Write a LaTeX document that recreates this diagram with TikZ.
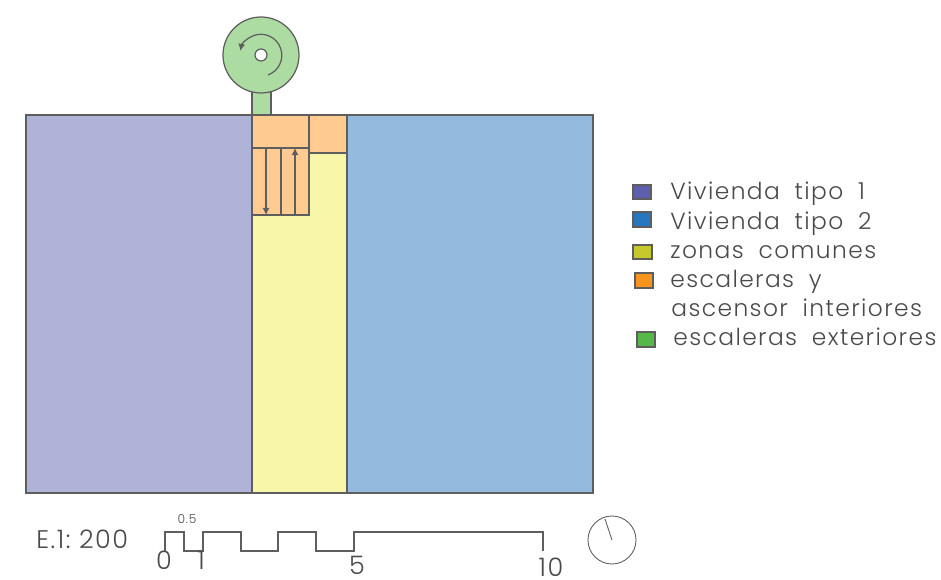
\documentclass[tikz,border=0pt]{standalone}
\usepackage{amsmath}
\usepackage{fontspec}
\usepackage{tikz}
\usetikzlibrary{arrows.meta}
\newfontfamily\cadfont[UprightFont=* Light,LetterSpace=6,WordSpace=1.9]{Poppins}
\definecolor{linegray}{HTML}{5E5E5E}
\definecolor{textgray}{HTML}{4A4A4A}
\definecolor{viviendaA}{HTML}{B0B3D8}
\definecolor{viviendaB}{HTML}{94BBDD}
\definecolor{comunes}{HTML}{F8F6A8}
\definecolor{interior}{HTML}{FFCB90}
\definecolor{exterior}{HTML}{ADDCA3}
\tikzset{
  wall/.style={draw=linegray, line width=0.7pt},
  keybox/.style={draw=linegray, line width=0.7pt},
  keytext/.style={anchor=base west, inner sep=0pt, text=textgray, font=\cadfont\fontsize{13.3}{13.3}\selectfont},
  scaletext/.style={anchor=base, inner sep=0pt, text=textgray, font=\cadfont\fontsize{14.5}{14.5}\selectfont},
  stairtip/.style={-{Latex[length=4pt,width=4pt]}}
}
\begin{document}
\begin{tikzpicture}[x=0.02cm, y=-0.02cm]
\useasboundingbox (0,0) rectangle (941,580);
% spiral stair outside
\draw[wall, fill=exterior] (252,115) -- (252,90) -- (271,90) -- (271,115);
\draw[wall, fill=exterior] (261,55) circle [radius=38];
\draw[wall, fill=white] (261,55) circle [radius=6];
\draw[wall, stairtip] (268,75) arc [start angle=70, end angle=-168, radius=21];
% flats and common zone
\draw[wall, fill=viviendaA] (26,115) rectangle (252,493);
\draw[wall, fill=viviendaB] (347,115) rectangle (593,493);
\draw[wall, fill=comunes] (252,115) rectangle (347,493);
% stairs and lift
\draw[wall, fill=interior] (252,115) rectangle (309,215);
\draw[wall, fill=interior] (309,115) rectangle (347,153);
\draw[wall] (252,148) -- (309,148);
\draw[wall] (281,148) -- (281,215);
\draw[wall, stairtip] (266,148) -- (266,215);
\draw[wall, stairtip] (295,215) -- (295,148);
% legend
\draw[keybox, fill={rgb,255:red,95;green,95;blue,174}] (633,185) rectangle (651,199);
\draw[keybox, fill={rgb,255:red,37;green,119;blue,190}] (633,212) rectangle (651,227);
\draw[keybox, fill={rgb,255:red,198;green,200;blue,44}] (633,245) rectangle (652,259);
\draw[keybox, fill={rgb,255:red,247;green,148;blue,30}] (635,273) rectangle (653,288);
\draw[keybox, fill={rgb,255:red,85;green,184;blue,72}] (637,332) rectangle (655,347);
\node[keytext] (tipoA) at (670,200) {Vivienda tipo 1};
\node[keytext] (tipoB) at (670,230) {Vivienda tipo 2};
\node[keytext] (zonas) at (670,259) {zonas comunes};
\node[keytext] (escaleras) at (670,288) {escaleras y};
\node[keytext] (ascensor) at (671,317) {ascensor interiores};
\node[keytext] (exteriores) at (673,346) {escaleras exteriores};
% graphic scale
\node[scaletext, anchor=base west] (escala) at (36,549) {E.1:\,\,200};
\draw[wall] (165,551) -- (165,532) -- (184,532) -- (184,551) -- (203,551) -- (203,532) -- (241,532) -- (241,551) -- (278,551) -- (278,532) -- (316,532) -- (316,551) -- (354,551) -- (354,532) -- (543,532) -- (543,551);
\node[scaletext, font=\cadfont\fontsize{7}{7}\selectfont] (medio) at (187,524) {0.5};
\node[scaletext] (cero) at (164,570) {0};
\node[scaletext] (uno) at (201,570) {1};
\node[scaletext] (cinco) at (357,575) {5};
\node[scaletext] (diez) at (551,577) {10};
% north
\draw[linegray, line width=0.5pt] (612,540) circle [radius=24];
\draw[linegray, line width=0.5pt] (605,519) -- (612,540);
\end{tikzpicture}
\end{document}
